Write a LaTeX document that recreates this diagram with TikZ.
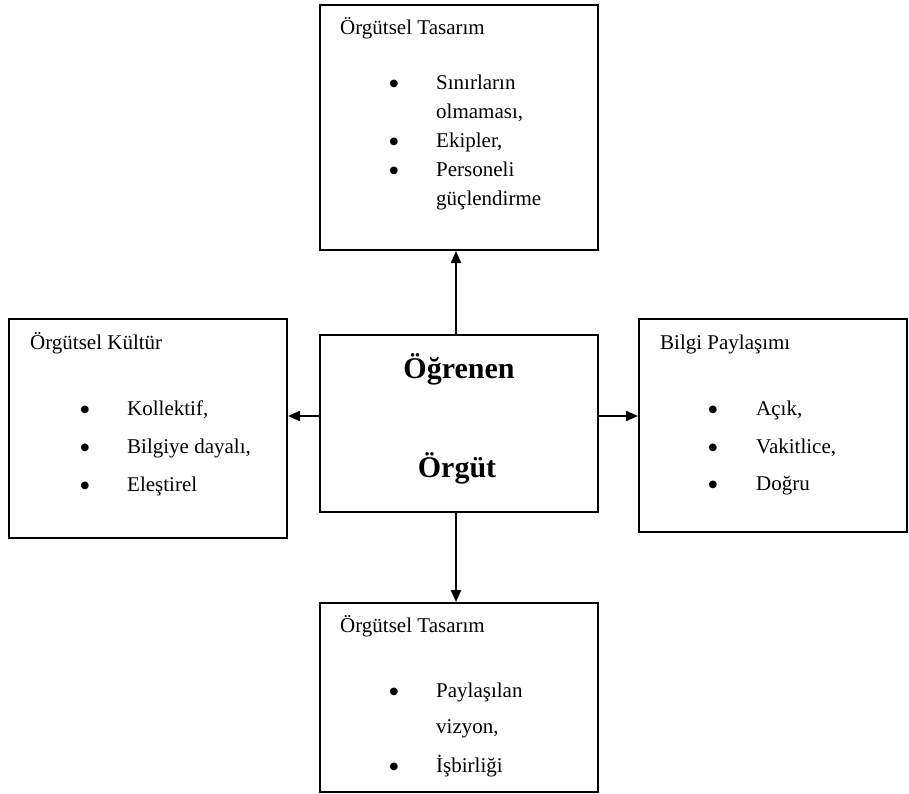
\documentclass[tikz,border=0pt]{standalone}
\usepackage{fontspec}
\setmainfont{Liberation Serif}
\usetikzlibrary{arrows.meta}
\begin{document}
\begin{tikzpicture}[x=1pt,y=-1pt]
\tikzset{
  kutu/.style={draw, line width=2pt, inner sep=0pt},
  baslik/.style={anchor=base west, inner sep=0pt, font=\fontsize{21}{25}\selectfont},
  madde/.style={anchor=base west, inner sep=0pt, font=\fontsize{21}{25}\selectfont},
  nokta/.style={anchor=base, inner sep=0pt, yshift=-5pt, font=\fontsize{32}{34}\selectfont},
  merkez/.style={anchor=base, inner sep=0pt, font=\fontsize{30}{34}\selectfont\bfseries},
  ok/.style={line width=2pt, -{Triangle[length=12pt,width=10pt]}}
}
\useasboundingbox (0,0) rectangle (909,794);

% Drawing box Ogrenen Orgut
\node [kutu, minimum width=278pt, minimum height=177pt] (orgut) at (459,423.5) {};
\node [merkez] (orgutA) at (459,378) {Öğrenen};
\node [merkez] (orgutB) at (457,477) {Örgüt};

% Drawing box Orgutsel Tasarim (top)
\node [kutu, minimum width=278pt, minimum height=245pt] (tasarimust) at (459,127.5) {};
\node [baslik] (tasarimustT) at (340,35) {Örgütsel Tasarım};
\node [nokta] (tasarimustN1) at (394,90) {•};
\node [madde] (tasarimustM1) at (436,90) {Sınırların};
\node [madde] (tasarimustM2) at (436,119) {olmaması,};
\node [nokta] (tasarimustN2) at (394,148) {•};
\node [madde] (tasarimustM3) at (436,148) {Ekipler,};
\node [nokta] (tasarimustN3) at (394,177) {•};
\node [madde] (tasarimustM4) at (436,177) {Personeli};
\node [madde] (tasarimustM5) at (436,206) {güçlendirme};

% Drawing box Orgutsel Kultur
\node [kutu, minimum width=278pt, minimum height=219pt] (kultur) at (148,428.5) {};
\node [baslik] (kulturT) at (30,349) {Örgütsel Kültür};
\node [nokta] (kulturN1) at (85,415) {•};
\node [madde] (kulturM1) at (127,415) {Kollektif,};
\node [nokta] (kulturN2) at (85,453) {•};
\node [madde] (kulturM2) at (127,453) {Bilgiye dayalı,};
\node [nokta] (kulturN3) at (85,491) {•};
\node [madde] (kulturM3) at (127,491) {Eleştirel};

% Drawing box Bilgi Paylasimi
\node [kutu, minimum width=268pt, minimum height=213pt] (paylasim) at (773,425.5) {};
\node [baslik] (paylasimT) at (660,349) {Bilgi Paylaşımı};
\node [nokta] (paylasimN1) at (713,415) {•};
\node [madde] (paylasimM1) at (756,415) {Açık,};
\node [nokta] (paylasimN2) at (713,453) {•};
\node [madde] (paylasimM2) at (756,453) {Vakitlice,};
\node [nokta] (paylasimN3) at (713,490) {•};
\node [madde] (paylasimM3) at (756,490) {Doğru};

% Drawing box Orgutsel Tasarim (bottom)
\node [kutu, minimum width=278pt, minimum height=189pt] (tasarimalt) at (459,697.5) {};
\node [baslik] (tasarimaltT) at (340,632) {Örgütsel Tasarım};
\node [nokta] (tasarimaltN1) at (394,697) {•};
\node [madde] (tasarimaltM1) at (436,697) {Paylaşılan};
\node [madde] (tasarimaltM2) at (436,733) {vizyon,};
\node [nokta] (tasarimaltN2) at (394,772) {•};
\node [madde] (tasarimaltM3) at (436,772) {İşbirliği};

% Drawing arrows
\coordinate (solok) at ([yshift=7.5pt]orgut.west);
\coordinate (sagok) at ([yshift=7.5pt]orgut.east);
\draw [ok] ([xshift=-3pt]orgut.north) -- ([xshift=-3pt]tasarimust.south);
\draw [ok] ([xshift=-3pt]orgut.south) -- ([xshift=-3pt]tasarimalt.north);
\draw [ok] (solok) -- (kultur.east |- solok);
\draw [ok] (sagok) -- (paylasim.west |- sagok);
\end{tikzpicture}
\end{document}
